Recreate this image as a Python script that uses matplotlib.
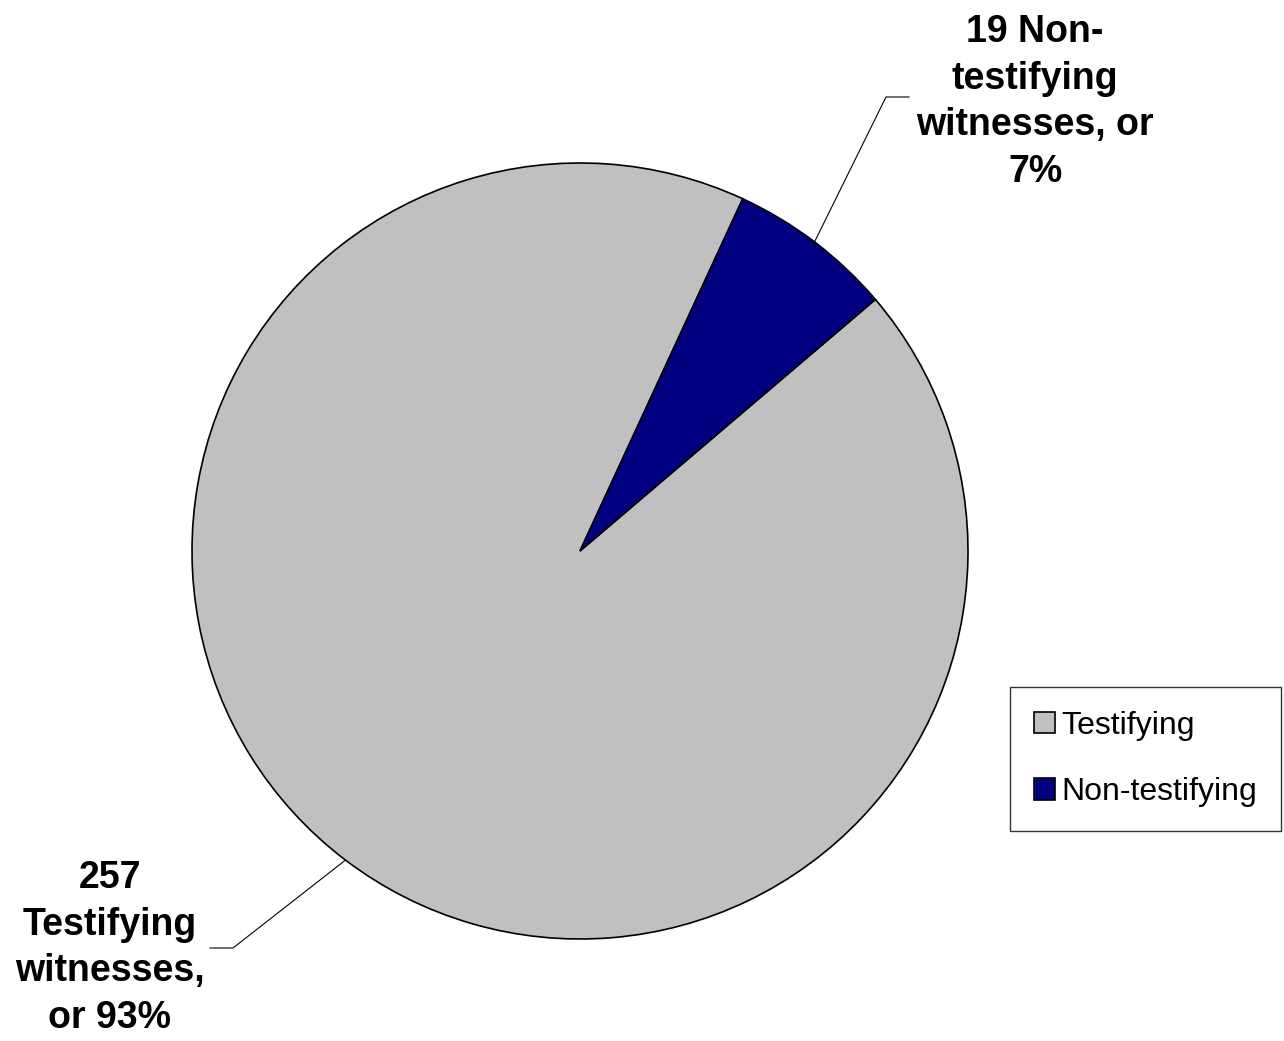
import numpy as np
import matplotlib.pyplot as plt

labels = ["Testifying", "Non-testifying"]
counts = [257, 19]
colors = ["#C0C0C0", "#000080"]
callouts = ["257\nTestifying\nwitnesses,\nor 93%", "19 Non-\ntestifying\nwitnesses, or\n7%"]

plt.rcParams['font.family'] = ['Liberation Sans', 'DejaVu Sans']

W, H = 1284, 1041
fig = plt.figure(figsize=(W / 100, H / 100), dpi=100)
ax = fig.add_axes([0, 0, 1, 1])

cx, cy, r = 580, H - 551, 388
wedges, _ = ax.pie(counts, colors=colors, startangle=65.2, counterclock=True,
                   center=(cx, cy), radius=r,
                   wedgeprops=dict(edgecolor="black", linewidth=1.2))

ax.set_xlim(0, W)
ax.set_ylim(0, H)
ax.set_aspect('equal')
ax.axis('off')

# leader lines + callout labels
# (elbow point, end of horizontal, text centre)
elbows = [((233, 948), (210, 948), (110, 948)),
          ((886, 97), (909, 97), (1035, 102))]
for w, lab, (elb, end, txt) in zip(wedges, callouts, elbows):
    mid = np.deg2rad((w.theta1 + w.theta2) / 2)
    sx, sy = cx + r * np.cos(mid), cy + r * np.sin(mid)
    ax.plot([sx, elb[0], end[0]], [sy, H - elb[1], H - end[1]],
            color="black", lw=0.8)
    ax.text(txt[0], H - txt[1], lab, ha="center", va="center",
            fontsize=27, fontweight="bold", linespacing=1.37)

leg = ax.legend(wedges, labels, loc="center",
                bbox_to_anchor=(1010 / W, 1 - 831 / H, 271 / W, 144 / H),
                bbox_transform=fig.transFigure,
                fontsize=23, frameon=True, fancybox=False, shadow=False,
                edgecolor="black", handlelength=0.65, handleheight=0.65,
                handletextpad=0.2, labelspacing=1.15, borderpad=0.75,
                borderaxespad=0)
leg.get_frame().set_linewidth(1.0)

fig.savefig("out.png", dpi=100)
